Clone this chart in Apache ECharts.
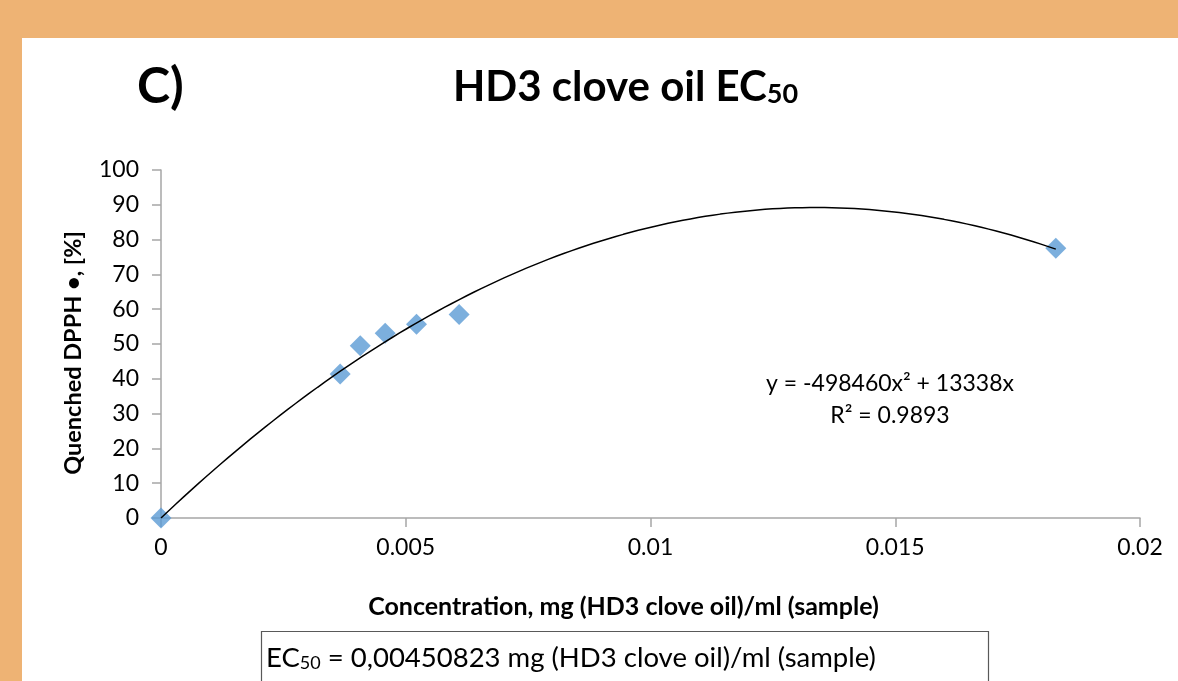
<!DOCTYPE html>
<html>
<head>
<meta charset="utf-8">
<script src="https://cdn.jsdelivr.net/npm/echarts@6/dist/echarts.min.js"></script>
<style>
html,body{margin:0;padding:0;background:#EEB374;}
#frame{position:absolute;left:22px;top:38px;width:1156px;height:643px;background:#fff;}
#chart{position:absolute;left:0;top:0;width:1178px;height:681px;}
</style>
</head>
<body>
<div id="frame"></div>
<div id="chart"></div>
<script>
// Data
const concentrations = [0, 0.00366, 0.00407, 0.00458, 0.00522, 0.00609, 0.01828];
const quenched = [0, 41.4, 49.5, 53.1, 55.7, 58.5, 77.5];
// Trendline coefficients as printed on the chart: y = a x^2 + b x
const trendA = -498460;
const trendB = 13338;
const xTicks = [0, 0.005, 0.01, 0.015, 0.02];
const yTicks = [0, 10, 20, 30, 40, 50, 60, 70, 80, 90, 100];

const FONT = 'Lato';
const scatterData = concentrations.map((x, i) => [x, quenched[i]]);
const xEnd = concentrations[concentrations.length - 1];
const trend = [];
const steps = 120;
for (let i = 0; i <= steps; i++) {
  const x = xEnd * i / steps;
  trend.push([x, trendA * x * x + trendB * x]);
}

const chart = echarts.init(document.getElementById('chart'));
chart.setOption({
  backgroundColor: 'transparent',
  animation: false,
  textStyle: { fontFamily: FONT },
  title: {
    text: '{a|HD3 clove oil EC}{b|50}',
    left: 448, top: 61,
    textStyle: {
      rich: {
        a: { fontFamily: FONT, fontWeight: 'bold', fontSize: 42, color: '#000', verticalAlign: 'bottom' },
        b: { fontFamily: FONT, fontWeight: 'bold', fontSize: 27, color: '#000', verticalAlign: 'bottom' }
      }
    }
  },
  grid: { left: 161, right: 38, top: 170, bottom: 163, containLabel: false },
  xAxis: {
    type: 'value', min: 0, max: 0.02, interval: 0.005,
    axisLine: { show: true, lineStyle: { color: '#A6A6A6', width: 1.5 } },
    axisTick: { show: true, inside: false, length: 9, lineStyle: { color: '#A6A6A6', width: 1.5 } },
    splitLine: { show: false },
    axisLabel: { color: '#000', fontSize: 23, fontFamily: FONT, margin: 18,
      formatter: v => { const s = xTicks.find(t => Math.abs(t - v) < 1e-9); return s === undefined ? '' : String(s); } },
    name: 'Concentration, mg (HD3 clove oil)/ml (sample)',
    nameLocation: 'middle', nameGap: 76,
    nameTextStyle: { color: '#000', fontWeight: 'bold', fontSize: 25, fontFamily: FONT, padding: [0, 54, 0, 0] }
  },
  yAxis: {
    type: 'value', min: 0, max: 100, interval: 10,
    axisLine: { show: true, lineStyle: { color: '#A6A6A6', width: 1.5 } },
    axisTick: { show: true, inside: false, length: 9, lineStyle: { color: '#A6A6A6', width: 1.5 } },
    splitLine: { show: false },
    axisLabel: { color: '#000', fontSize: 23, fontFamily: FONT, margin: 22 },
    name: 'Quenched DPPH •, [%]',
    nameLocation: 'middle', nameGap: 76, nameRotate: 90,
    nameTextStyle: { color: '#000', fontWeight: 'bold', fontSize: 23.5, fontFamily: FONT, padding: [0, 0, 0, -18] }
  },
  series: [
    {
      type: 'scatter', data: scatterData, symbol: 'diamond', symbolSize: 21,
      itemStyle: { color: '#5B9BD5' }, z: 2
    },
    {
      type: 'line', data: trend, showSymbol: false, smooth: false,
      lineStyle: { color: '#000', width: 1.5 }, z: 3, silent: true
    }
  ],
  graphic: [
    { type: 'text', left: 137, top: 62, style: { text: 'C)', font: 'bold 50px ' + FONT, fill: '#000' } },
    { type: 'text', x: 890, y: 372, style: { text: 'y = -498460x² + 13338x', font: '23px ' + FONT, fill: '#000', textAlign: 'center' } },
    { type: 'text', x: 890, y: 404, style: { text: 'R² = 0.9893', font: '23px ' + FONT, fill: '#000', textAlign: 'center' } },
    { type: 'rect', shape: { x: 261.5, y: 631.5, width: 727, height: 70 }, style: { fill: '#fff', stroke: '#595959', lineWidth: 1.2 } },
    { type: 'text', left: 266, top: 644, style: {
        text: '{a|EC}{b|50}{a| = 0,00450823 mg (HD3 clove oil)/ml (sample)}',
        rich: {
          a: { font: '27.5px ' + FONT, fill: '#000', verticalAlign: 'bottom' },
          b: { font: '18px ' + FONT, fill: '#000', verticalAlign: 'bottom' }
        }
    } }
  ]
});
</script>
</body>
</html>
